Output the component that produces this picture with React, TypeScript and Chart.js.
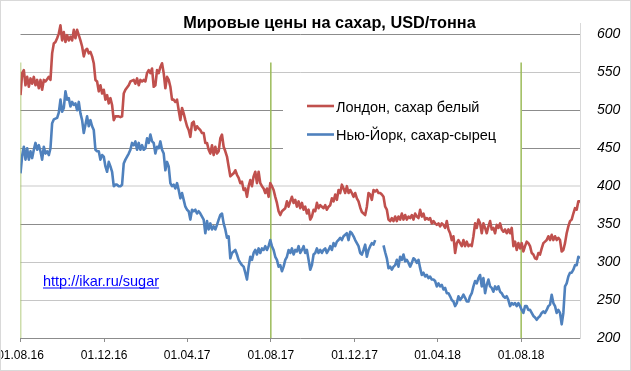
import React, { useEffect, useRef } from "react";
import { Chart, registerables } from "chart.js";

Chart.register(...registerables);

// ---- data ----
const titleText = "Мировые цены на сахар, USD/тонна";
const seriesNames = ["Лондон, сахар белый", "Нью-Йорк, сахар-сырец"];
const linkText = "http://ikar.ru/sugar";

// x axis: days since 01.08.16
const tickDays = [0, 122, 243, 365, 487, 608, 730];
const tickLabels = ["01.08.16", "01.12.16", "01.04.17", "01.08.17", "01.12.17", "01.04.18", "01.08.18"];
const yTicks = [200, 250, 300, 350, 400, 450, 500, 550, 600];
// sampling interval of the price series, in days
const STEP_DAYS = 2.428;
// vertical marker lines (start of season)
const markerDays = [0, 365, 730];
const markerRange = [200, 563];

const london = [
  520, 549, 553, 533, 544, 531, 542, 535, 544, 533, 540, 529, 540, 527, 540, 538, 541, 544, 540, 575,
  588, 590, 595, 601, 612, 592, 603, 590, 599, 592, 597, 592, 606, 595, 606, 599, 592, 584, 571, 579,
  581, 575, 577, 571, 562, 540, 538, 525, 533, 522, 527, 514, 520, 509, 516, 507, 487, 492, 492, 492,
  491, 492, 522, 527, 530, 533,
  538, 539, 540, 535, 542, 533, 540, 538, 540, 538, 549, 553, 549, 555, 531, 533, 553, 549, 557, 562,
  549, 529, 544, 540, 531, 514, 514, 511, 514, 500, 487, 503, 496, 487, 479, 474, 465, 483, 485, 474,
  479, 476, 474, 470, 470, 457, 457, 448, 443, 454, 441, 452, 443, 446, 463, 468, 452, 446, 439, 426,
  413, 415, 417, 421, 415, 411, 404, 406, 395,
  397, 386, 400, 408, 400, 413, 419, 404, 419, 404, 400, 397, 391, 397, 386, 404, 400, 395, 386, 378,
  367, 362, 367, 369, 371, 380, 373, 380, 386, 378, 382, 373, 380, 371, 378, 369, 373, 364, 369, 356,
  360, 369, 367, 378, 371, 375, 373, 371, 375, 369, 373, 375, 384, 380, 389, 382, 395, 391, 402, 397,
  391, 400, 391, 395, 391, 386, 391, 384, 380,
  372, 366, 364, 362, 373, 391, 389, 382, 395, 393, 395, 391, 391, 389, 386, 373, 369, 356, 354, 358,
  354, 360, 354, 360, 356, 364, 356, 362, 356, 360, 358, 362, 356, 364, 360, 358, 369, 360, 364, 356,
  358, 356, 358, 351, 354, 351, 349, 351, 347, 351, 349, 345, 354, 343, 338, 329, 334, 312, 325, 329,
  325, 321, 329, 321, 327, 321, 323, 321, 334,
  351, 345, 356, 351, 338, 351, 345, 338, 347, 354, 343, 345, 338, 349, 345, 351, 343, 340, 343, 338,
  343, 338, 345, 321, 327, 316, 325, 318, 325, 314, 321, 327, 325, 321, 312, 310, 305, 304, 312, 310,
  318, 325, 327, 329, 334, 329, 336, 329, 334, 329, 332, 329, 314, 316, 325, 338, 347, 354, 356, 364,
  371, 369, 380, 380,
];

const newYork = [
  417, 440, 452, 435, 450, 435, 446, 437, 448, 457, 448, 454, 446, 435, 452, 443, 446, 441, 450, 483,
  488, 489, 490, 497, 514, 498, 503, 525, 514, 516, 505, 511, 507, 509, 500, 511, 496, 487, 470, 481,
  492, 479, 487, 479, 474, 448, 446, 446, 435, 441, 439, 426, 419, 432, 426, 419, 400, 402, 402, 400,
  400, 402, 430, 435, 439, 443,
  448, 457, 454, 459, 448, 457, 448, 454, 448, 450, 463, 457, 468, 459, 457, 443, 452, 450, 459, 448,
  443, 421, 432, 426, 404, 400, 402, 397, 404, 395, 384, 391, 382, 373, 369, 367, 356, 369, 367, 369,
  364, 367, 364, 360, 356, 338, 354, 343, 351, 343, 347, 343, 349, 356, 362, 364, 351, 343, 332, 334,
  305, 312, 314, 316, 310, 303, 299, 296, 294,
  286, 277, 294, 307, 303, 312, 316, 310, 318, 312, 318, 316, 321, 316, 321, 329, 321, 316, 307, 303,
  294, 296, 288, 294, 303, 307, 316, 312, 318, 310, 316, 314, 321, 312, 316, 321, 312, 316, 303, 290,
  296, 310, 312, 318, 312, 316, 312, 316, 318, 312, 316, 321, 316, 325, 321, 327, 329, 332, 329, 334,
  336, 338, 329, 340, 338, 334, 329, 325, 321,
  312, 310, 316, 323, 307, 316, 321, 325, 323, 329, null, null, null, null, 322, 313, 305, 292, 294, 290,
  294, 296, 303, 294, 307, 303, 310, 301, 303, 299, 294, 299, 305, 303, 299, 303, 292, 283, 286, 281,
  283, 279, 281, 277, 277, 275, 268, 272, 268, 270, 264, 266, 259, 259, 255, 250, 248, 242, 246, 255,
  250, 253, 257, 253, 248, 248, 255, 259, 268,
  275, 272, 279, 283, 268, 279, 259, 270, 277, 268, 266, 261, 268, 264, 268, 261, 259, 255, 253, 255,
  250, 242, 246, 244, 246, 242, 246, 242, 237, 233, 242, 242, 237, 237, 233, 229, 227, 224, 227, 229,
  233, 235, 233, 237, 242, 244, 257, 246, 242, 233, 237, 233, 218, 233, 268, 272, 281, 286, 286, 290,
  296, 296, 307, 305,
];

// ---- styles ----
const RED = "#C0504D";
const BLUE = "#4F81BD";
const GREEN = "#9BBB59";
const FONT = "'Liberation Sans', Arial, sans-serif";

const gridColorFor = (v: number) => {
  if (v === 400) return "#e4e4e4";
  if (v === 550 || v === 300 || v === 250) return "#c6c6c6";
  return "#8c8c8c";
};

const decorPlugin = {
  id: "decor",
  beforeDraw(chart: any) {
    const ctx = chart.ctx;
    ctx.save();
    ctx.fillStyle = "#ffffff";
    ctx.fillRect(0, 0, chart.width, chart.height);
    ctx.restore();
  },
  beforeDatasetsDraw(chart: any) {
    const ctx = chart.ctx;
    ctx.save();
    // legend box
    ctx.fillStyle = "#ffffff";
    ctx.fillRect(283, 78, 239, 90);
    const rows = [
      { color: RED, text: seriesNames[0], y: 106, base: 111.5 },
      { color: BLUE, text: seriesNames[1], y: 134.5, base: 140 },
    ];
    ctx.font = `14.5px ${FONT}`;
    ctx.textBaseline = "alphabetic";
    ctx.textAlign = "left";
    for (const r of rows) {
      ctx.strokeStyle = r.color;
      ctx.lineWidth = 2.6;
      ctx.beginPath();
      ctx.moveTo(307, r.y);
      ctx.lineTo(334, r.y);
      ctx.stroke();
      ctx.fillStyle = "#000000";
      ctx.fillText(r.text, 336, r.base);
    }
    ctx.restore();
  },
  afterDraw(chart: any) {
    const ctx = chart.ctx;
    ctx.save();
    // title
    ctx.fillStyle = "#000000";
    ctx.font = `bold 16.3px ${FONT}`;
    ctx.textAlign = "center";
    ctx.textBaseline = "alphabetic";
    ctx.fillText(titleText, 329.5, 28);
    // link
    ctx.font = `14.5px ${FONT}`;
    ctx.textAlign = "left";
    ctx.fillStyle = "#0000FF";
    ctx.fillText(linkText, 43, 286);
    const w = ctx.measureText(linkText).width;
    ctx.fillRect(43, 287.5, w, 1);
    // chart border
    ctx.strokeStyle = "#d9d9d9";
    ctx.lineWidth = 1;
    ctx.strokeRect(0.5, 0.5, chart.width - 1, chart.height - 1);
    ctx.restore();
  },
};

export default function App() {
  const ref = useRef<HTMLCanvasElement>(null);
  useEffect(() => {
    const toPoints = (arr: (number | null)[]) => arr.map((v, i) => ({ x: i * STEP_DAYS, y: v }));
    const markerSets = markerDays.map((d) => ({
      label: "",
      data: [{ x: d, y: markerRange[0] }, { x: d, y: markerRange[1] }],
      borderColor: GREEN,
      borderWidth: 1.5,
      pointRadius: 0,
      fill: false,
    }));
    const chart = new Chart(ref.current as HTMLCanvasElement, {
      type: "line",
      data: {
        datasets: [
          {
            label: seriesNames[0],
            data: toPoints(london),
            borderColor: RED,
            borderWidth: 2.6,
            pointRadius: 0,
            tension: 0,
            spanGaps: false,
            borderJoinStyle: "round",
          },
          {
            label: seriesNames[1],
            data: toPoints(newYork),
            borderColor: BLUE,
            borderWidth: 2.6,
            pointRadius: 0,
            tension: 0,
            spanGaps: false,
            borderJoinStyle: "round",
          },
          ...markerSets,
        ] as any,
      },
      options: {
        animation: false,
        responsive: false,
        devicePixelRatio: 1,
        layout: { autoPadding: false, padding: { left: 20.5, right: 0, top: 23, bottom: 0 } },
        plugins: {
          legend: { display: false },
          title: { display: false },
          tooltip: { enabled: false },
        },
        scales: {
          x: {
            type: "linear",
            min: 0,
            max: (london.length - 1) * STEP_DAYS,
            afterBuildTicks: (scale: any) => {
              scale.ticks = tickDays.map((v) => ({ value: v }));
            },
            afterFit: (scale: any) => {
              scale.height = 33;
              scale.paddingLeft = 0;
              scale.paddingRight = 0;
            },
            ticks: {
              autoSkip: false,
              maxRotation: 0,
              padding: 6,
              color: "#000000",
              font: { family: FONT, size: 12 },
              callback: (_v: any, i: number) => tickLabels[i],
            },
            grid: {
              display: true,
              drawOnChartArea: false,
              drawTicks: true,
              tickLength: 4,
              color: "#8c8c8c",
            },
            border: { display: false },
          },
          y: {
            type: "linear",
            position: "right",
            min: 200,
            max: 615,
            afterBuildTicks: (scale: any) => {
              scale.ticks = yTicks.map((v) => ({ value: v }));
            },
            afterFit: (scale: any) => {
              scale.width = 51;
              scale.paddingTop = 0;
              scale.paddingBottom = 0;
            },
            ticks: {
              padding: 2,
              color: "#000000",
              font: { family: FONT, size: 14, style: "italic" },
            },
            grid: {
              drawTicks: true,
              tickLength: 15,
              tickColor: "rgba(0,0,0,0)",
              color: (c: any) => gridColorFor(c.tick ? c.tick.value : 0),
              lineWidth: (c: any) => (c.tick && c.tick.value === 400 ? 2 : 1),
            },
            border: { display: true, color: "#d9d9d9", width: 1 },
          },
        },
      },
      plugins: [decorPlugin],
    });
    return () => chart.destroy();
  }, []);
  return (
    <div style={{ position: "absolute", left: 0, top: 0, width: 631, height: 371 }}>
      <canvas ref={ref} width={631} height={371} style={{ display: "block" }} />
    </div>
  );
}
